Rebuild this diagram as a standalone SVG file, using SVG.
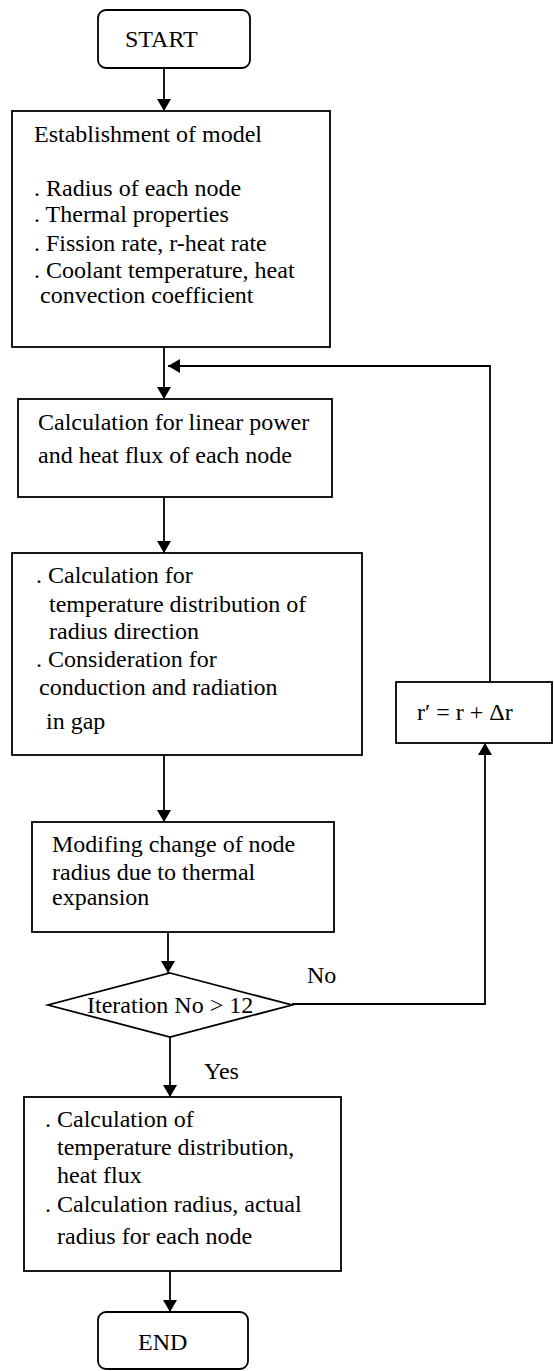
<svg xmlns="http://www.w3.org/2000/svg" width="554" height="1371" viewBox="0 0 554 1371">
<style>
.box{fill:#fff;stroke:#000;stroke-width:1.8}
.ln{fill:none;stroke:#000;stroke-width:1.8}
text{font-family:"Liberation Serif","Times New Roman",serif;font-size:24px;fill:#000}
</style>
<defs>
<marker id="ah" viewBox="0 0 12 14" refX="12" refY="7" markerWidth="12" markerHeight="14" markerUnits="userSpaceOnUse" orient="auto">
<path d="M0,0 L12,7 L0,14 Z" fill="#000"/>
</marker>
</defs>
<rect width="554" height="1371" fill="#fff"/>
<g id="connectors">
<line class="ln" x1="164" y1="68" x2="164" y2="111" marker-end="url(#ah)"/>
<line class="ln" x1="164" y1="347" x2="164" y2="399" marker-end="url(#ah)"/>
<line class="ln" x1="164" y1="497" x2="164" y2="553" marker-end="url(#ah)"/>
<line class="ln" x1="164" y1="755" x2="164" y2="822" marker-end="url(#ah)"/>
<line class="ln" x1="168" y1="932" x2="168" y2="973" marker-end="url(#ah)"/>
<line class="ln" x1="170" y1="1037" x2="170" y2="1097" marker-end="url(#ah)"/>
<line class="ln" x1="170" y1="1271" x2="170" y2="1312" marker-end="url(#ah)"/>
<polyline class="ln" points="292,1004 485,1004 485,743" marker-end="url(#ah)"/>
<polyline class="ln" points="490,682 490,366 168,366" marker-end="url(#ah)"/>
<text x="307" y="983">No</text>
<text x="204" y="1079">Yes</text>
</g>
<g id="start">
<rect class="box" x="98" y="10" width="152" height="58" rx="8"/>
<text x="125" y="47">START</text>
</g>
<g id="model">
<rect class="box" x="12" y="111" width="318" height="236"/>
<text x="34" y="142">Establishment of model</text>
<text x="34" y="196">. Radius of each node</text>
<text x="34" y="222">. Thermal properties</text>
<text x="34" y="251">. Fission rate, r-heat rate</text>
<text x="34" y="278">. Coolant temperature, heat</text>
<text x="40" y="303">convection coefficient</text>
</g>
<g id="linear">
<rect class="box" x="18" y="399" width="314" height="98"/>
<text x="38" y="430">Calculation for linear power</text>
<text x="38" y="463">and heat flux of each node</text>
</g>
<g id="tempdist">
<rect class="box" x="12" y="553" width="350" height="202"/>
<text x="36" y="583">. Calculation for</text>
<text x="49" y="612">temperature distribution of</text>
<text x="49" y="639">radius direction</text>
<text x="36" y="667">. Consideration for</text>
<text x="39" y="695">conduction and radiation</text>
<text x="46" y="729">in gap</text>
</g>
<g id="modify">
<rect class="box" x="32" y="822" width="302" height="110"/>
<text x="52" y="852">Modifing change of node</text>
<text x="52" y="880">radius due to thermal</text>
<text x="52" y="905">expansion</text>
</g>
<g id="decision">
<polygon class="box" points="170,973 292,1005 170,1037 48,1005"/>
<text x="87" y="1013">Iteration No &gt; 12</text>
</g>
<g id="update">
<rect class="box" x="396" y="682" width="156" height="61"/>
<text x="417" y="720">r′ = r + Δr</text>
</g>
<g id="result">
<rect class="box" x="24" y="1097" width="317" height="174"/>
<text x="45" y="1127">. Calculation of</text>
<text x="57" y="1155">temperature distribution,</text>
<text x="57" y="1183">heat flux</text>
<text x="45" y="1212">. Calculation radius, actual</text>
<text x="57" y="1244">radius for each node</text>
</g>
<g id="end">
<rect class="box" x="98" y="1312" width="150" height="57" rx="8"/>
<text x="138" y="1350">END</text>
</g>
</svg>
